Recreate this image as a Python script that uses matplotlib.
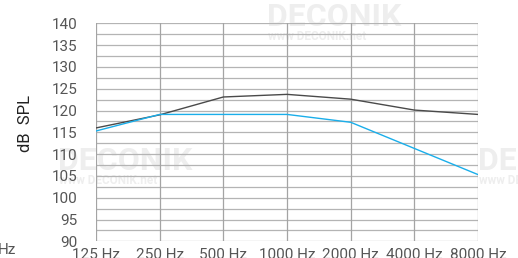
import numpy as np
import matplotlib.pyplot as plt

plt.rcParams['font.family'] = ['Roboto', 'DejaVu Sans']

freqs = [125, 250, 500, 1000, 2000, 4000, 8000]
freq_labels = ['125 Hz', '250 Hz', '500 Hz', '1000 Hz', '2000 Hz', '4000 Hz', '8000 Hz']
# dark curve and blue curve (dB SPL)
spl_dark = [116.0, 119.0, 123.1, 123.7, 122.6, 120.1, 119.1]
spl_blue = [115.3, 119.1, 119.1, 119.1, 117.3, 111.3, 105.3]
y_ticks = [90, 95, 100, 105, 110, 115, 120, 125, 130, 135, 140]

fig = plt.figure(figsize=(5.18, 2.58), dpi=100)
ax = fig.add_axes([96/518, 1-241.3/258, (478-96)/518, (241.3-23.3)/258])

ax.set_xscale('log', base=2)
ax.set_xlim(125, 8000)
ax.set_ylim(90, 140)

# grid
for y in np.arange(90, 140.1, 2.5):
    ax.axhline(y, color='#b4b4b4', lw=0.9, zorder=1)
for f in freqs:
    ax.axvline(f, color='#a4a4a4', lw=0.9, zorder=1)

ax.plot(freqs, spl_dark, color='#4a4a4a', lw=1.0, zorder=3)
ax.plot(freqs, spl_blue, color='#1aaeea', lw=1.0, zorder=3)

for s in ax.spines.values():
    s.set_visible(False)

ax.set_xticks(freqs)
ax.set_xticklabels(freq_labels)
ax.xaxis.set_minor_locator(plt.NullLocator())
ax.set_yticks(y_ticks)
ax.set_yticklabels([str(v) for v in y_ticks])
ax.tick_params(axis='both', length=0, labelsize=11, labelcolor='#555555')
ax.tick_params(axis='y', pad=13.5)
ax.tick_params(axis='x', pad=5)

fig.text(25.5/518, 1-124/258, 'dB  SPL', rotation=90, ha='center', va='center',
         fontsize=12, color='#222222')

# cut-off label from neighbouring chart
fig.text(-2/518, 1-250/258, 'Hz', ha='left', va='center', fontsize=11, color='#555555')

# faint watermarks
wm = '#eeeeee'
marks = [(267, 17, 36), (58, 161, 180), (478, 161, 180)]
for mx, my1, my2 in marks:
    fig.text(mx/518, 1-my1/258, 'DECONIK', fontsize=23, fontweight='bold', color=wm,
             ha='left', va='center', zorder=0)
    fig.text((mx+1)/518, 1-my2/258, 'www DECONIK.net', fontsize=8.5, fontweight='bold',
             color=wm, ha='left', va='center', zorder=0)
ax.set_zorder(2)
ax.patch.set_alpha(0)

fig.savefig('out.png', dpi=100)
